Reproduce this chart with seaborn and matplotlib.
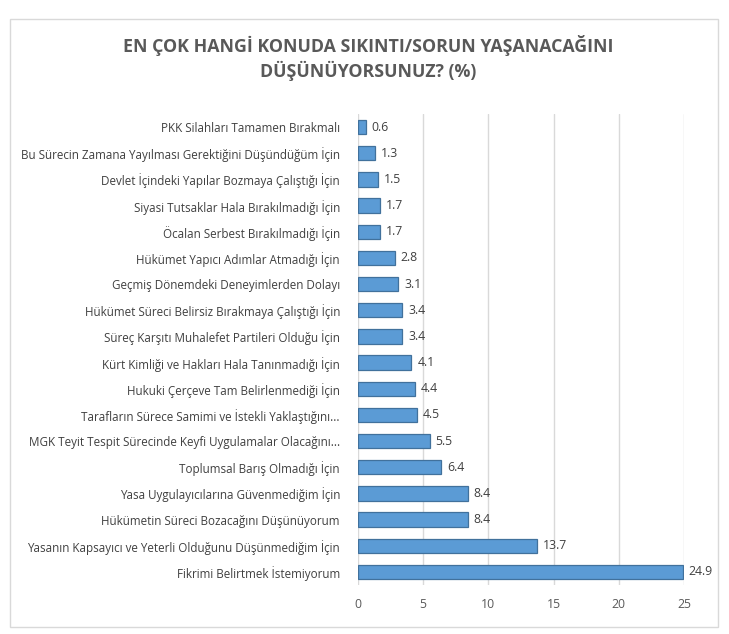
import matplotlib
matplotlib.use("Agg")
import matplotlib.pyplot as plt
import seaborn as sns
import pandas as pd

labels = [
    "PKK Silahları Tamamen Bırakmalı",
    "Bu Sürecin Zamana Yayılması Gerektiğini Düşündüğüm İçin",
    "Devlet İçindeki Yapılar Bozmaya Çalıştığı İçin",
    "Siyasi Tutsaklar Hala Bırakılmadığı İçin",
    "Öcalan Serbest Bırakılmadığı İçin",
    "Hükümet Yapıcı Adımlar Atmadığı İçin",
    "Geçmiş Dönemdeki Deneyimlerden Dolayı",
    "Hükümet Süreci Belirsiz Bırakmaya Çalıştığı İçin",
    "Süreç Karşıtı Muhalefet Partileri Olduğu İçin",
    "Kürt Kimliği ve Hakları Hala Tanınmadığı İçin",
    "Hukuki Çerçeve Tam Belirlenmediği İçin",
    "Tarafların Sürece Samimi ve İstekli Yaklaştığını...",
    "MGK Teyit Tespit Sürecinde Keyfi Uygulamalar Olacağını...",
    "Toplumsal Barış Olmadığı İçin",
    "Yasa Uygulayıcılarına Güvenmediğim İçin",
    "Hükümetin Süreci Bozacağını Düşünüyorum",
    "Yasanın Kapsayıcı ve Yeterli Olduğunu Düşünmediğim İçin",
    "Fikrimi Belirtmek İstemiyorum",
]
values = [0.6, 1.3, 1.5, 1.7, 1.7, 2.8, 3.1, 3.4, 3.4, 4.1, 4.4, 4.5, 5.5, 6.4, 8.4, 8.4, 13.7, 24.9]
ticks = [0, 5, 10, 15, 20, 25]

df = pd.DataFrame({"label": labels, "value": values})

sns.set_style("white")
plt.rcParams["font.family"] = ["Open Sans", "DejaVu Sans"]

W, H = 729, 634
fig = plt.figure(figsize=(W / 100, H / 100), dpi=100)
ax = fig.add_axes([358 / W, 1 - 585 / H, (682 - 356) / W, (585 - 114) / H])

sns.barplot(data=df, x="value", y="label", orient="h", ax=ax, width=0.55,
            color="#5B9BD5", edgecolor="#41719C", linewidth=0.9, saturation=1)

for p, v in zip(ax.patches, values):
    ax.text(p.get_x() + p.get_width() + 0.45, p.get_y() + p.get_height() / 2, f"{v}",
            va="center", ha="left", fontsize=8.8, color="#404040", clip_on=False)

ax.set_xlim(0, 25)
ax.set_xticks(ticks)
ax.set_xticklabels([str(t) for t in ticks], fontsize=8.8, color="#595959")
ax.tick_params(axis="x", length=0, pad=9)
ax.tick_params(axis="y", length=0, pad=13, labelsize=8.4, labelcolor="#404040")
ax.set_xlabel("")
ax.set_ylabel("")
ax.grid(axis="x", color="#D9D9D9", linewidth=1)
ax.set_axisbelow(True)
for s in ax.spines.values():
    s.set_visible(False)

fig.text(368 / W, 1 - 45 / H, "EN ÇOK HANGİ KONUDA SIKINTI/SORUN YAŞANACAĞINI",
         ha="center", va="center", fontsize=12.8, fontweight="bold", color="#595959")
fig.text(368 / W, 1 - 71 / H, "DÜŞÜNÜYORSUNUZ? (%)",
         ha="center", va="center", fontsize=12.8, fontweight="bold", color="#595959")

border = plt.Rectangle((10 / W, 1 - 627 / H), (718 - 10) / W, (627 - 19) / H,
                       transform=fig.transFigure, fill=False, edgecolor="#D9D9D9", linewidth=1)
fig.add_artist(border)

fig.savefig("out.png", dpi=100)
